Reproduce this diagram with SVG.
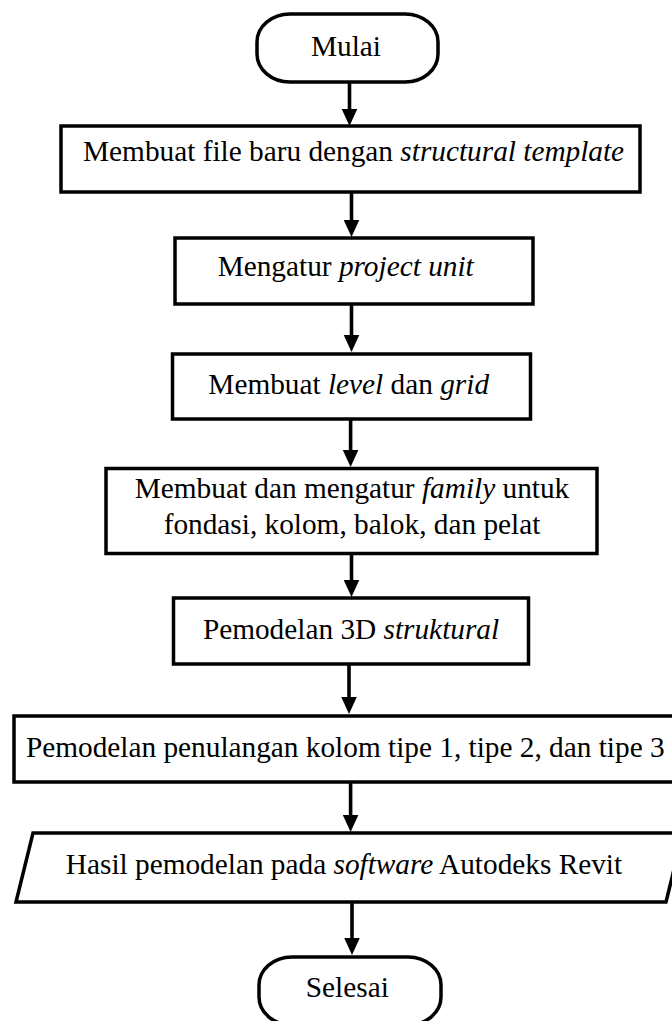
<svg xmlns="http://www.w3.org/2000/svg" width="672" height="1021" viewBox="0 0 672 1021">
<style>
.shape{fill:#fff;stroke:#000;stroke-width:3.5}
.t{font-family:"Liberation Serif","Times New Roman",serif;font-size:29.3px;fill:#000;text-anchor:middle}
.i{font-style:italic}
.c{stroke:#000;stroke-width:3.6;fill:none}
.h{fill:#000}
</style>
<rect width="672" height="1021" fill="#fff"/>
<g id="connectors">
<path class="c" d="M349.5,82 V110"/><path class="h" d="M341.7,109 H357.3 L349.5,126 Z"/>
<path class="c" d="M351.5,193 V221"/><path class="h" d="M343.7,220 H359.3 L351.5,237 Z"/>
<path class="c" d="M351.5,305 V336"/><path class="h" d="M343.7,335 H359.3 L351.5,352 Z"/>
<path class="c" d="M350.6,420 V451"/><path class="h" d="M342.8,450 H358.4 L350.6,467 Z"/>
<path class="c" d="M351.5,554 V581"/><path class="h" d="M343.7,580 H359.3 L351.5,597 Z"/>
<path class="c" d="M349,665 V698"/><path class="h" d="M341.2,697 H356.8 L349,714 Z"/>
<path class="c" d="M350.6,783 V816"/><path class="h" d="M342.8,815 H358.4 L350.6,832 Z"/>
<path class="c" d="M352,902 V939"/><path class="h" d="M344.2,938 H359.8 L352,955 Z"/>
</g>
<g id="start">
<rect class="shape" x="257" y="14" width="181" height="68" rx="33" ry="28"/>
<text class="t" x="346" y="55.5">Mulai</text>
</g>
<g id="new-file">
<rect class="shape" x="61" y="126" width="579" height="66"/>
<text class="t" x="353.6" y="161">Membuat file baru dengan <tspan class="i">structural template</tspan></text>
</g>
<g id="project-unit">
<rect class="shape" x="175" y="238" width="358" height="66"/>
<text class="t" x="345.7" y="275.7">Mengatur <tspan class="i">project unit</tspan></text>
</g>
<g id="level-grid">
<rect class="shape" x="172.5" y="354" width="358" height="65"/>
<text class="t" x="348.7" y="394">Membuat <tspan class="i">level</tspan> dan <tspan class="i">grid</tspan></text>
</g>
<g id="family">
<rect class="shape" x="106" y="468.5" width="491" height="85"/>
<text class="t" x="352" y="497.7">Membuat dan mengatur <tspan class="i">family</tspan> untuk</text>
<text class="t" x="352" y="534">fondasi, kolom, balok, dan pelat</text>
</g>
<g id="model-3d">
<rect class="shape" x="173.5" y="598" width="355" height="66"/>
<text class="t" x="351" y="639.3">Pemodelan 3D <tspan class="i">struktural</tspan></text>
</g>
<g id="rebar">
<rect class="shape" x="14" y="716" width="680" height="66"/>
<text class="t" x="345.3" y="757">Pemodelan penulangan kolom tipe 1, tipe 2, dan tipe 3</text>
</g>
<g id="output">
<polygon class="shape" points="33,833 683,833 666,902 16,902"/>
<text class="t" x="344" y="874">Hasil pemodelan pada <tspan class="i">software</tspan> Autodeks Revit</text>
</g>
<g id="end">
<rect class="shape" x="259" y="957" width="182" height="68" rx="33" ry="28"/>
<text class="t" x="347.3" y="996.7">Selesai</text>
</g>
</svg>
